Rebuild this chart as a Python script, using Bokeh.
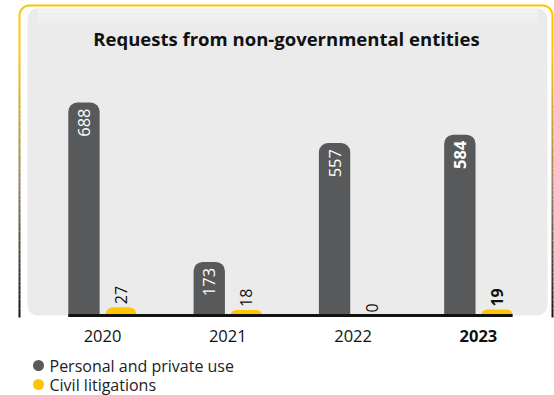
import numpy as np
from math import pi
from bokeh.plotting import figure
from bokeh.models import Range1d, ColumnDataSource
from bokeh.transform import dodge
from bokeh.core.properties import value
from bokeh.embed import file_html
from bokeh.resources import INLINE

# ---------------- data ----------------
years = ["2020", "2021", "2022", "2023"]
personal = [688, 173, 557, 584]
civil = [27, 18, 0, 19]
series_names = ["Personal and private use", "Civil litigations"]
title_text = "Requests from non-governmental entities"
highlight_year = "2023"

# ---------------- style / layout ----------------
W, H = 554, 395
GRAY = "#58595b"
YELLOW = "#ffc600"
PANEL = "#ebebeb"
INK = "#111111"
FONT = "Open Sans"

CAT_PX = 125.3      # pixels per category
FIRST_PX = 102      # pixel x of first category centre
BASE_PX = 315       # pixel y (from top) of the zero line
VAL_PX = 213 / 688  # pixels per unit
BAR_W = 0.25
OFF = 0.148

x_range = Range1d(-FIRST_PX / CAT_PX, (W - FIRST_PX) / CAT_PX)
y_range = Range1d(-(H - BASE_PX) / VAL_PX, BASE_PX / VAL_PX)

p = figure(width=W, height=H, x_range=x_range, y_range=y_range,
           output_backend="svg", toolbar_location=None,
           x_axis_location=None, y_axis_location=None,
           min_border=0, outline_line_color=None,
           background_fill_color="white", border_fill_color="white")
p.grid.visible = False
p.extra_x_ranges = {"px": Range1d(0, W)}
p.extra_y_ranges = {"px": Range1d(H, 0)}
PX = dict(x_range_name="px", y_range_name="px")

# panel
p.quad(left=[27], right=[547], top=[8], bottom=[315], fill_color=PANEL,
       line_color=None, border_radius=10, **PX)
# soft lighter band at the top of the panel
for k, c in enumerate(["#f4f4f4", "#f1f1f1", "#efefef", "#ededed"]):
    p.quad(left=[37], right=[537], top=[9 + 4 * k], bottom=[13 + 4 * k], fill_color=c,
           line_color=None, **PX)

# frame border: yellow top with rounded corners, sides fading to black
r = 10
L, R, T = 19, 552, 5
a = np.linspace(pi, pi / 2, 12)
left_arc_x = (L + r) + r * np.cos(a)
left_arc_y = (T + r) - r * np.sin(a)
a2 = np.linspace(pi / 2, 0, 12)
right_arc_x = (R - r) + r * np.cos(a2)
right_arc_y = (T + r) - r * np.sin(a2)
Y0 = 50
bx = [L] + list(left_arc_x) + list(right_arc_x) + [R]
by = [Y0] + list(left_arc_y) + list(right_arc_y) + [Y0]
p.line(bx, by, line_color=YELLOW, line_width=2, **PX)

def hex2rgb(h):
    h = h.lstrip("#")
    return np.array([int(h[i:i + 2], 16) for i in (0, 2, 4)], dtype=float)

stops = [(Y0, hex2rgb(YELLOW)), (190, hex2rgb("#8a7f66")), (317, hex2rgb("#111111"))]
ys = np.linspace(Y0, 317, 60)
cols = []
for i in range(len(ys) - 1):
    ym = (ys[i] + ys[i + 1]) / 2
    for j in range(len(stops) - 1):
        if stops[j][0] <= ym <= stops[j + 1][0]:
            t = (ym - stops[j][0]) / (stops[j + 1][0] - stops[j][0])
            c = stops[j][1] * (1 - t) + stops[j + 1][1] * t
            break
    cols.append("#%02x%02x%02x" % tuple(int(round(v)) for v in c))
for xx in (L, R):
    p.segment(x0=[xx] * (len(ys) - 1), y0=list(ys[:-1]), x1=[xx] * (len(ys) - 1),
              y1=list(ys[1:]), line_color=cols, line_width=2, **PX)

# ---------------- bars ----------------
idx = list(range(len(years)))
styles = ["bold" if y == highlight_year else "normal" for y in years]
src = ColumnDataSource(dict(idx=idx, year=years, personal=personal, civil=civil,
                            plab=[str(v) for v in personal], clab=[str(v) for v in civil],
                            style=styles))

p.vbar(x=dodge("idx", -OFF, range=p.x_range), top="personal", bottom=0, width=BAR_W,
       fill_color=GRAY, line_color=None, border_radius=(9, 9, 0, 0), source=src)
p.vbar(x=dodge("idx", OFF, range=p.x_range), top="civil", bottom=0, width=BAR_W,
       fill_color=YELLOW, line_color=None, border_radius=(8, 8, 0, 0), source=src)

# zero line
p.segment(x0=[min(idx) - OFF - BAR_W / 2], y0=[0], x1=[max(idx) + OFF + BAR_W / 2], y1=[0],
          line_color=INK, line_width=3)

# value labels
p.text(x=dodge("idx", -OFF, range=p.x_range), y="personal", text="plab", angle=pi / 2,
       y_offset=6, text_align="right", text_baseline="middle",
       text_font=value(FONT), text_font_size="16.5px", text_color="white",
       text_font_style="style", source=src)
p.text(x=dodge("idx", OFF, range=p.x_range), y="civil", text="clab", angle=pi / 2,
       y_offset=-3, text_align="left", text_baseline="middle",
       text_font=value(FONT), text_font_size="16px", text_color=INK,
       text_font_style="style", source=src)

# category labels
p.text(x="idx", y=0, text="year", y_offset=20, text_align="center", text_baseline="middle",
       text_font=value(FONT), text_font_size="16.5px", text_color=INK,
       text_font_style="style", source=src)

# title
p.text(x=[286], y=[38], text=[title_text], text_align="center", text_baseline="middle",
       text_font=value(FONT), text_font_size="18.5px", text_font_style="bold",
       text_color=INK, **PX)

# legend
leg_y = [365, 384]
p.scatter(x=[38, 38], y=leg_y, size=11, marker="circle", fill_color=[GRAY, YELLOW],
          line_color=None, **PX)
p.text(x=[49, 49], y=leg_y, text=series_names, text_align="left", text_baseline="middle",
       text_font=value(FONT), text_font_size="16px", text_color="#222222", **PX)

open("out.html", "w").write(file_html(p, INLINE))
